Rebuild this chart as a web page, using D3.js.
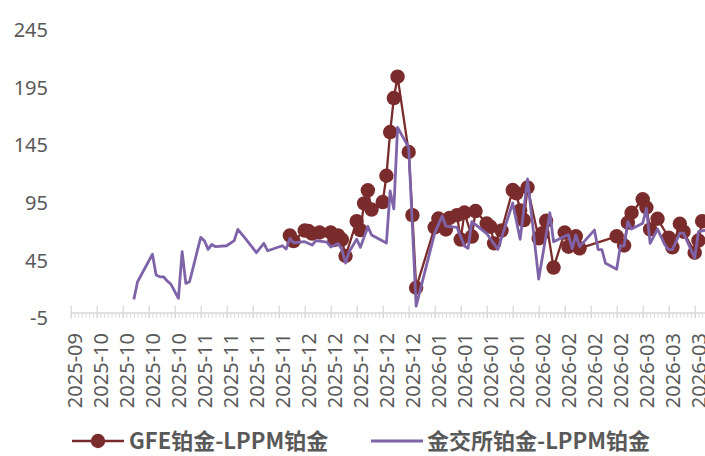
<!DOCTYPE html>
<html>
<head>
<meta charset="utf-8">
<script src="https://cdn.jsdelivr.net/npm/d3@7"></script>
<style>
  body { margin: 0; background: #fff; }
  svg { display: block; }
</style>
</head>
<body>
<svg id="chart" width="705" height="456"></svg>
<script>
// 金交所铂金 - LPPM铂金 价差
const sgeDates = [
  "2025-10-16","2025-10-17","2025-10-21","2025-10-22","2025-10-23","2025-10-24","2025-10-25","2025-10-26","2025-10-28","2025-10-29",
  "2025-10-30","2025-10-31","2025-11-03","2025-11-04","2025-11-05","2025-11-06","2025-11-07","2025-11-10","2025-11-12","2025-11-13",
  "2025-11-15","2025-11-18","2025-11-20","2025-11-21","2025-11-25","2025-11-26","2025-11-27","2025-11-28","2025-12-01","2025-12-03",
  "2025-12-04","2025-12-07","2025-12-08","2025-12-10","2025-12-11","2025-12-12","2025-12-13","2025-12-15","2025-12-16","2025-12-18",
  "2025-12-19","2025-12-23","2025-12-24","2025-12-25","2025-12-26","2025-12-29","2025-12-31","2026-01-05","2026-01-07","2026-01-08",
  "2026-01-11","2026-01-13","2026-01-14","2026-01-15","2026-01-19","2026-01-22","2026-01-26","2026-01-28","2026-01-30","2026-02-02",
  "2026-02-05","2026-02-06","2026-02-10","2026-02-11","2026-02-12","2026-02-13","2026-02-17","2026-02-18","2026-02-19","2026-02-20",
  "2026-02-23","2026-02-24","2026-02-25","2026-02-26","2026-02-27","2026-03-02","2026-03-03","2026-03-04","2026-03-06","2026-03-08",
  "2026-03-09","2026-03-10","2026-03-12","2026-03-13","2026-03-16","2026-03-17","2026-03-19"
];
const sgeValues = [
  11.4, 26.7, 50.5, 32.5, 31.0, 31.0, 27.3, 24.5, 12.3, 52.7,
  25.3, 26.7, 65.2, 62.3, 54.8, 59.1, 57.1, 57.9, 62.3, 72.1,
  64.3, 51.9, 60.0, 53.6, 57.9, 55.1, 64.3, 60.5, 61.4, 58.5,
  62.4, 61.1, 56.8, 59.8, 54.6, 42.9, 52.9, 63.6, 56.5, 74.7,
  67.2, 60.3, 105.4, 89.9, 160.6, 143.1, 5.6, 68.9, 83.7, 75.0,
  73.9, 57.7, 55.7, 78.9, 68.5, 54.8, 95.0, 63.5, 115.8, 29.0,
  86.5, 61.4, 67.6, 55.5, 67.2, 57.1, 71.5, 54.6, 54.6, 42.7,
  37.5, 58.1, 57.7, 78.9, 72.4, 77.4, 90.4, 60.0, 72.4, 58.5,
  54.6, 54.6, 68.9, 68.9, 47.3, 70.2, 71.5
];

// GFE铂金 - LPPM铂金 价差
const gfeDates = [
  "2025-11-27","2025-11-28","2025-12-01","2025-12-02","2025-12-03","2025-12-05","2025-12-08","2025-12-09","2025-12-10","2025-12-11",
  "2025-12-12","2025-12-15","2025-12-16","2025-12-17","2025-12-18","2025-12-19","2025-12-22","2025-12-23","2025-12-24","2025-12-25",
  "2025-12-26","2025-12-29","2025-12-30","2025-12-31","2026-01-05","2026-01-06","2026-01-08","2026-01-09","2026-01-11","2026-01-12",
  "2026-01-13","2026-01-15","2026-01-16","2026-01-19","2026-01-20","2026-01-21","2026-01-23","2026-01-26","2026-01-27","2026-01-28",
  "2026-01-29","2026-01-30","2026-02-02","2026-02-03","2026-02-04","2026-02-06","2026-02-09","2026-02-10","2026-02-12","2026-02-13",
  "2026-02-23","2026-02-25","2026-02-26","2026-02-27","2026-03-02","2026-03-03","2026-03-04","2026-03-06","2026-03-09","2026-03-10",
  "2026-03-12","2026-03-13","2026-03-16","2026-03-17","2026-03-18"
];
const gfeValues = [
  66.8, 62.0, 71.1, 70.7, 68.5, 69.4, 69.4, 62.9, 66.8, 63.3,
  49.0, 79.3, 71.5, 94.7, 106.0, 89.3, 95.8, 118.6, 156.5, 186.0,
  204.5, 139.2, 84.5, 21.5, 73.9, 81.5, 72.0, 82.1, 84.5, 63.3,
  86.7, 65.9, 88.0, 77.2, 74.4, 60.0, 71.1, 106.2, 103.4, 88.5,
  80.2, 108.4, 64.3, 68.7, 79.6, 39.0, 69.4, 57.1, 66.1, 55.7,
  66.1, 58.1, 77.9, 86.5, 98.2, 91.1, 72.1, 81.3, 65.0, 56.5,
  77.0, 70.1, 51.9, 62.4, 79.2
];

const yTickValues = [-5, 45, 95, 145, 195, 245];
const seriesNames = ["GFE铂金-LPPM铂金", "金交所铂金-LPPM铂金"];
const axisStart = "2025-09-29";
const axisEnd = "2026-03-22";

const parse = d3.timeParse("%Y-%m-%d");
const gfe = gfeDates.map((d, i) => ({ date: parse(d), value: gfeValues[i] }));
const sge = sgeDates.map((d, i) => ({ date: parse(d), value: sgeValues[i] }));

const red = "#7a2b2b";
const purple = "#7f63a9";
const textColor = "#595959";
const axisColor = "#d9d9d9";
const font = "'Noto Sans', 'Noto Sans CJK SC', sans-serif";

const svg = d3.select("#chart");

const start = parse(axisStart), end = parse(axisEnd);
const dayPx = 26 / 7;
const x = d3.scaleTime()
  .domain([start, end])
  .range([70.7, 70.7 + d3.timeDay.count(start, end) * dayPx]);
const y = d3.scaleLinear().domain([-5, 245]).range([318.3, 30]);

// horizontal axis sits on the zero line
const y0 = y(0);
const majorTicks = d3.timeDay.range(start, d3.timeDay.offset(end, 1), 7);
const minorTicks = d3.timeDay.range(start, d3.timeDay.offset(end, 1), 1);

const minorAxis = svg.append("g")
  .attr("transform", `translate(0,${y0})`)
  .call(d3.axisBottom(x).tickValues(minorTicks).tickSize(5).tickFormat(""));
minorAxis.selectAll("line").attr("stroke", axisColor).attr("stroke-width", 1);
minorAxis.select(".domain").remove();

const majorAxis = svg.append("g")
  .attr("transform", `translate(0,${y0})`)
  .call(d3.axisBottom(x).tickValues(majorTicks).tickSizeOuter(0)
        .tickFormat(d3.timeFormat("%Y-%m")));
majorAxis.select(".domain").attr("stroke", axisColor).attr("stroke-width", 1.5);
majorAxis.selectAll(".tick line")
  .attr("stroke", axisColor).attr("stroke-width", 1.3)
  .attr("y1", -7).attr("y2", 6);
majorAxis.selectAll(".tick text")
  .attr("transform", "rotate(-90)")
  .attr("text-anchor", "end")
  .attr("x", -20.5)
  .attr("y", 4)
  .attr("dy", "0.35em")
  .attr("fill", textColor)
  .style("font-family", font)
  .style("font-size", "20px");

// vertical axis: labels only, plain hyphen for negatives
const yAxis = svg.append("g")
  .attr("transform", "translate(48,0)")
  .call(d3.axisLeft(y).tickValues(yTickValues).tickSize(0).tickPadding(0)
        .tickFormat(d => String(d)));
yAxis.select(".domain").remove();
yAxis.selectAll("text")
  .attr("fill", textColor)
  .style("font-family", font)
  .style("font-size", "20px");

// GFE series: line with round markers
const line = d3.line().x(d => x(d.date)).y(d => y(d.value));
svg.append("path")
  .datum(gfe)
  .attr("d", line)
  .attr("fill", "none")
  .attr("stroke", red)
  .attr("stroke-width", 2.3)
  .attr("stroke-linejoin", "round");
svg.append("g").selectAll("circle")
  .data(gfe)
  .join("circle")
  .attr("cx", d => x(d.date))
  .attr("cy", d => y(d.value))
  .attr("r", 7.2)
  .attr("fill", red);

// SGE series: plain line
svg.append("path")
  .datum(sge)
  .attr("d", line)
  .attr("fill", "none")
  .attr("stroke", purple)
  .attr("stroke-width", 2.8)
  .attr("stroke-linejoin", "round");

// legend
const legend = svg.append("g").attr("transform", "translate(0,441)");
legend.append("line").attr("x1", 72).attr("x2", 124).attr("y1", 0).attr("y2", 0)
  .attr("stroke", red).attr("stroke-width", 2.3);
legend.append("circle").attr("cx", 98).attr("cy", 0).attr("r", 7.2).attr("fill", red);
legend.append("text").attr("x", 129).attr("y", 0).attr("dy", "0.35em")
  .text(seriesNames[0]);
legend.append("line").attr("x1", 371).attr("x2", 423).attr("y1", 0).attr("y2", 0)
  .attr("stroke", purple).attr("stroke-width", 2.8);
legend.append("text").attr("x", 427).attr("y", 0).attr("dy", "0.35em")
  .text(seriesNames[1]);
legend.selectAll("text")
  .attr("fill", textColor)
  .style("font-family", "'Noto Sans CJK SC', sans-serif")
  .style("font-weight", "bold")
  .style("font-size", "22px");
</script>
</body>
</html>
